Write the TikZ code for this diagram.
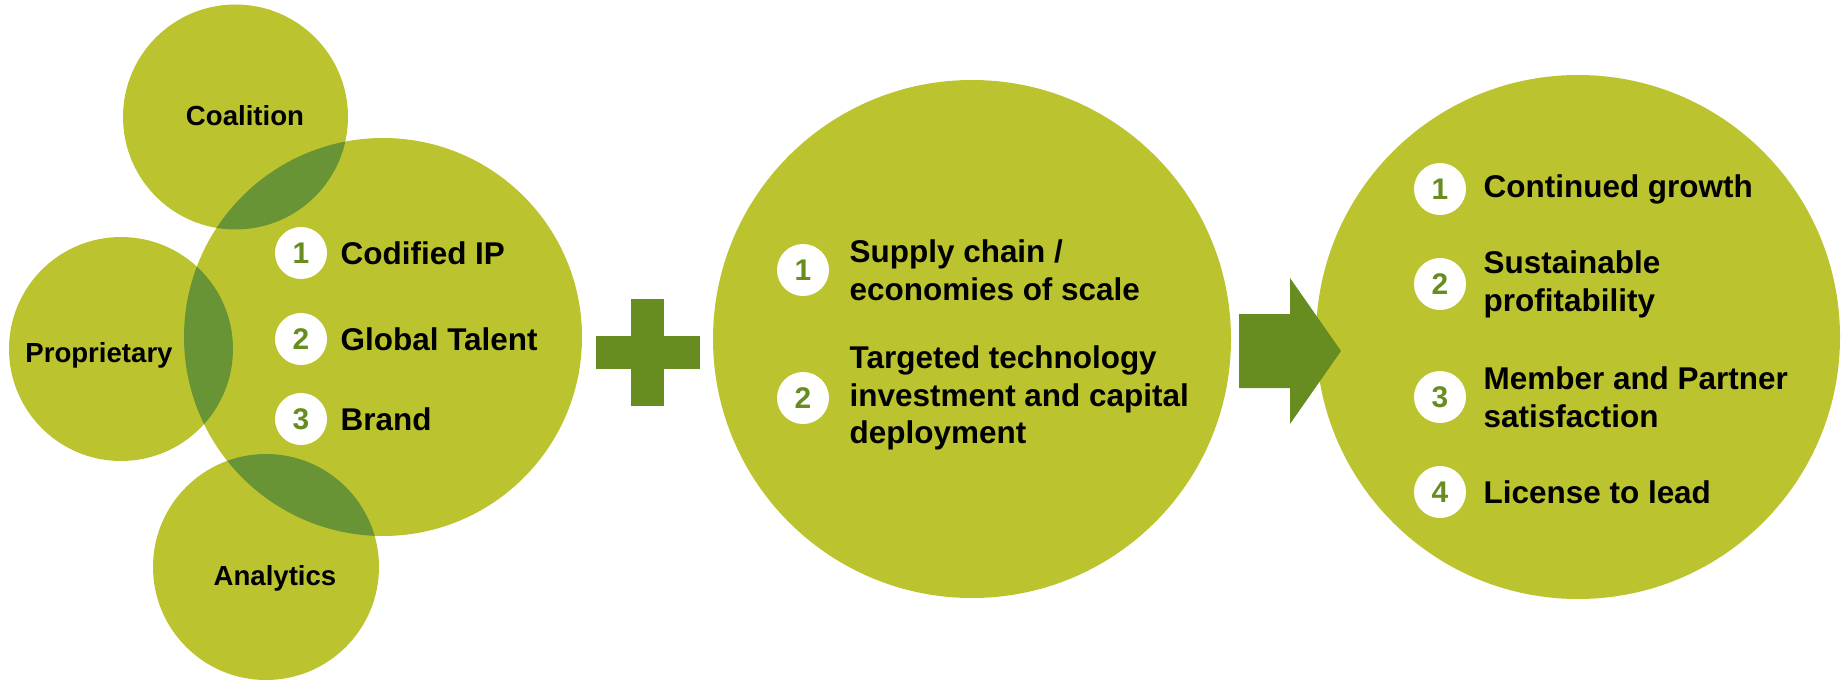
\documentclass[tikz,border=0pt]{standalone}
\usepackage{fontspec}
\setmainfont{Liberation Sans}
\usetikzlibrary{positioning}
\definecolor{leaf}{RGB}{187,196,47}
\definecolor{moss}{RGB}{103,140,31}
\definecolor{overlap}{RGB}{105,148,53}

\begin{document}
\begin{tikzpicture}[
    num/.style={circle, fill=white, minimum size=1.04cm, inner sep=0pt, text=moss, font=\fontsize{17}{20}\selectfont\bfseries},
    item/.style={align=left, inner sep=0pt, font=\fontsize{17.9}{21.5}\selectfont\bfseries},
    lbl/.style={inner sep=0pt, font=\fontsize{15.7}{18}\selectfont\bfseries}
]
\useasboundingbox (0,0) rectangle (36.86,-13.6);

% left cluster: core circle with three satellites
\fill[leaf] (4.71,-2.34) circle (2.25);
\fill[leaf] (2.42,-6.98) circle (2.24);
\fill[leaf] (5.32,-11.34) circle (2.26);
\fill[leaf] (7.66,-6.74) circle (3.98);
\begin{scope}
    \clip (7.66,-6.74) circle (3.98);
    \fill[overlap] (4.71,-2.34) circle (2.25);
    \fill[overlap] (2.42,-6.98) circle (2.24);
    \fill[overlap] (5.32,-11.34) circle (2.26);
\end{scope}

\node[lbl] (coalition) at (4.90,-2.32) {Coalition};
\node[lbl] (proprietary) at (1.98,-7.10) {Proprietary};
\node[lbl] (analytics) at (5.50,-11.56) {Analytics};

\node[num] (c1) at (6.02,-5.06) {1};
\node[num] (c2) at (6.02,-6.78) {2};
\node[num] (c3) at (6.02,-8.38) {3};
\node[item, right=0.26cm of c1] (ip) {Codified IP};
\node[item, right=0.26cm of c2] (talent) {Global Talent};
\node[item, right=0.26cm of c3] (brand) {Brand};

% plus sign
\fill[moss] (11.92,-6.72) rectangle (14.00,-7.38);
\fill[moss] (12.62,-5.98) rectangle (13.28,-8.12);

% middle circle
\fill[leaf] (19.44,-6.78) circle (5.18);
\node[num] (m1) at (16.06,-5.40) {1};
\node[num] (m2) at (16.06,-7.96) {2};
\node[item, right=0.4cm of m1] (supply) {Supply chain /\\economies of scale};
\node[item, right=0.4cm of m2] (invest) {Targeted technology\\investment and capital\\deployment};

% right circle with outcomes
\fill[leaf] (31.56,-6.74) circle (5.24);
\node[num] (r1) at (28.80,-3.78) {1};
\node[num] (r2) at (28.80,-5.68) {2};
\node[num] (r3) at (28.80,-7.94) {3};
\node[num] (r4) at (28.80,-9.84) {4};
\node[item, right=0.34cm of r1] (growth) {Continued growth};
\node[item, right=0.34cm of r2] (profit) {Sustainable\\profitability};
\node[item, right=0.34cm of r3] (members) {Member and Partner\\satisfaction};
\node[item, right=0.34cm of r4] (license) {License to lead};

% block arrow
\fill[moss] (24.78,-6.28) -- (25.80,-6.28) -- (25.80,-5.56) -- (26.82,-7.02)
    -- (25.80,-8.48) -- (25.80,-7.76) -- (24.78,-7.76) -- cycle;
\end{tikzpicture}
\end{document}
